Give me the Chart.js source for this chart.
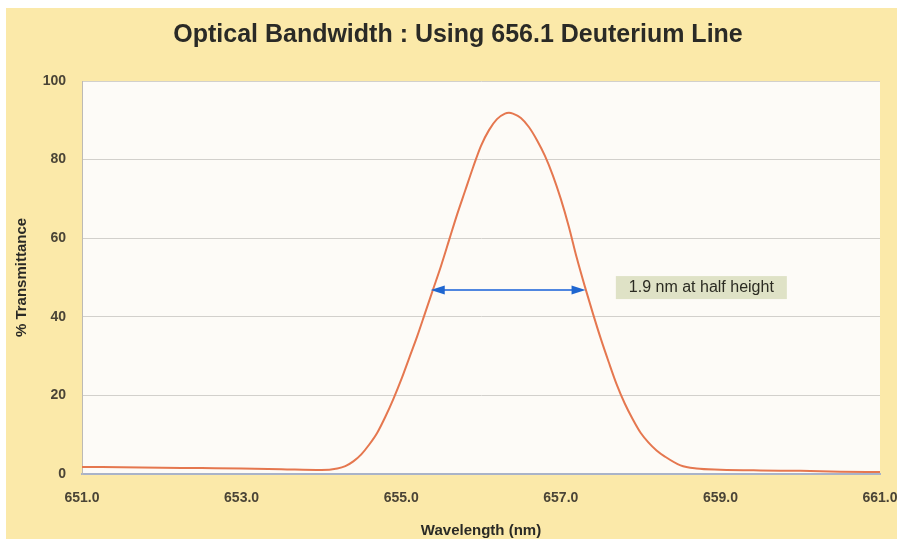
<!DOCTYPE html>
<html>
<head>
<meta charset="utf-8">
<script src="https://cdn.jsdelivr.net/npm/chart.js@4.4.1/dist/chart.umd.min.js"></script>
<style>
    html, body { margin: 0; padding: 0; background: #ffffff; overflow: hidden; width: 897px; height: 539px; }
    .wrap { position: absolute; left: 6px; top: 8px; width: 911px; height: 547px; background: #fbe9a9; }
</style>
</head>
<body>
<div class="wrap"><canvas id="chart"></canvas></div>
<script>
    // Data
    const wavelengths = [651.0, 651.5, 652.0, 652.5, 653.0, 653.5, 654.0, 654.2, 654.3, 654.4, 654.5, 654.6, 654.7, 654.8, 654.9,
        655.0, 655.1, 655.2, 655.3, 655.4, 655.5, 655.6, 655.7, 655.8, 655.9, 656.0, 656.1, 656.2, 656.3, 656.35, 656.4,
        656.5, 656.6, 656.7, 656.8, 656.9, 657.0, 657.1, 657.2, 657.3, 657.4, 657.5, 657.6, 657.7, 657.8, 657.9, 658.0,
        658.1, 658.2, 658.3, 658.5, 658.7, 659.0, 659.5, 660.0, 660.5, 661.0];
    const transmittance = [1.8, 1.7, 1.6, 1.5, 1.4, 1.2, 1.0, 1.4, 2.0, 3.2, 5.0, 7.5, 10.5, 14.5, 19.0,
        24.0, 29.5, 35.0, 41.0, 47.0, 53.0, 59.5, 66.0, 72.0, 78.0, 83.5, 87.5, 90.3, 91.7, 91.9, 91.7,
        90.6, 88.3, 85.0, 81.0, 76.0, 70.0, 63.0, 55.0, 47.8, 41.0, 34.5, 28.5, 22.8, 18.0, 14.0, 10.5,
        8.0, 6.0, 4.5, 2.2, 1.4, 1.1, 0.9, 0.8, 0.6, 0.5];
    const xTicks = [651, 653, 655, 657, 659, 661];
    const yTicks = [0, 20, 40, 60, 80, 100];
    const halfWidthX = [655.37, 657.31];
    const halfHeight = 46.8;
    const titleText = 'Optical Bandwidth : Using 656.1 Deuterium Line';
    const noteText = '1.9 nm at half height';
    const noteX = 657.69;

    const sans = '"Liberation Sans", Arial, sans-serif';

    // plot area fill + chart title (title centred on the page, not the padded box)
    const plotBg = {
        id: 'plotBg',
        beforeDraw(chart) {
            const {ctx, chartArea: a} = chart;
            ctx.save();
            ctx.fillStyle = '#fdfbf7';
            ctx.fillRect(a.left, a.top, a.right - a.left, a.bottom - a.top);
            ctx.font = 'bold 25px ' + sans;
            ctx.fillStyle = '#2a2a26';
            ctx.textAlign = 'center';
            ctx.textBaseline = 'middle';
            ctx.fillText(titleText, 452, 27);
            ctx.restore();
        }
    };

    // double arrow + note box
    const halfArrow = {
        id: 'halfArrow',
        afterDatasetsDraw(chart) {
            const {ctx, scales: {x, y}} = chart;
            const x1 = x.getPixelForValue(halfWidthX[0]);
            const x2 = x.getPixelForValue(halfWidthX[1]);
            const yy = y.getPixelForValue(halfHeight);
            ctx.save();
            ctx.strokeStyle = '#4f86e0';
            ctx.fillStyle = '#1f66d0';
            ctx.lineWidth = 2;
            ctx.beginPath();
            ctx.moveTo(x1 + 8, yy);
            ctx.lineTo(x2 - 8, yy);
            ctx.stroke();
            ctx.beginPath();
            ctx.moveTo(x1, yy);
            ctx.lineTo(x1 + 14, yy - 4.5);
            ctx.lineTo(x1 + 14, yy + 4.5);
            ctx.closePath();
            ctx.fill();
            ctx.beginPath();
            ctx.moveTo(x2, yy);
            ctx.lineTo(x2 - 14, yy - 4.5);
            ctx.lineTo(x2 - 14, yy + 4.5);
            ctx.closePath();
            ctx.fill();

            const bx = x.getPixelForValue(noteX);
            ctx.font = '16px ' + sans;
            const w = ctx.measureText(noteText).width + 26;
            ctx.fillStyle = '#dfe2c6';
            ctx.fillRect(bx, yy - 14, w, 23);
            ctx.fillStyle = '#2b2b22';
            ctx.textBaseline = 'middle';
            ctx.fillText(noteText, bx + 13, yy - 2);
            ctx.restore();
        }
    };

    const ctx = document.getElementById('chart').getContext('2d');
    new Chart(ctx, {
        type: 'line',
        data: {
            datasets: [{
                data: wavelengths.map((w, i) => ({x: w, y: transmittance[i]})),
                borderColor: '#e5774f',
                borderWidth: 2,
                pointRadius: 0,
                cubicInterpolationMode: 'monotone',
                fill: false
            }]
        },
        options: {
            responsive: true,
            maintainAspectRatio: false,
            animation: false,
            layout: { padding: { left: 0, right: 37, top: 73, bottom: 0 } },
            plugins: {
                legend: { display: false },
                tooltip: { enabled: false },
                title: { display: false }
            },
            scales: {
                x: {
                    type: 'linear',
                    min: 651,
                    max: 661,
                    afterBuildTicks: s => { s.ticks = xTicks.map(v => ({value: v})); },
                    afterFit: s => { s.height = 81; },
                    grid: { display: false, drawTicks: false },
                    border: { color: '#a9b3c9', width: 2 },
                    ticks: {
                        color: '#4a4436',
                        padding: 16,
                        font: { family: sans, size: 14, weight: 'bold' },
                        callback: v => v.toFixed(1)
                    },
                    title: {
                        display: true,
                        text: 'Wavelength (nm)',
                        color: '#2a2a26',
                        font: { family: sans, size: 15, weight: 'bold' },
                        padding: { top: 0, bottom: 15 }
                    }
                },
                y: {
                    min: 0,
                    max: 100,
                    afterBuildTicks: s => { s.ticks = yTicks.map(v => ({value: v})); },
                    afterFit: s => { s.width = 76; },
                    grid: { color: '#d2d0cc', drawTicks: false },
                    border: { color: '#bdbab5' },
                    ticks: {
                        color: '#4a4436',
                        padding: 16,
                        font: { family: sans, size: 14, weight: 'bold' }
                    },
                    title: {
                        display: true,
                        text: '% Transmittance',
                        color: '#2a2a26',
                        font: { family: sans, size: 15, weight: 'bold' },
                        padding: { top: 7 }
                    }
                }
            }
        },
        plugins: [plotBg, halfArrow]
    });
</script>
</body>
</html>
